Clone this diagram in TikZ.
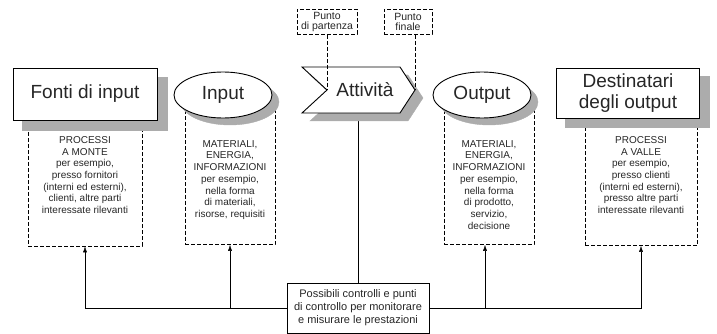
\documentclass[tikz,border=0pt]{standalone}
\usepackage{fontspec}
\setmainfont{Liberation Sans}
\usetikzlibrary{arrows.meta, shapes.geometric, backgrounds}
\definecolor{shadowgray}{RGB}{172, 172, 172}
\definecolor{ink}{RGB}{38, 38, 38}

\begin{document}
\begin{tikzpicture}[x=1pt, y=-1pt, line width=0.8pt,
  detbox/.style={draw, dash pattern=on 4pt off 2pt, line width=0.7pt, inner sep=0pt},
  dettext/.style={anchor=north, align=center, text=ink, inner sep=0pt,
                  font=\fontsize{10}{11.7}\selectfont},
  title/.style={draw, fill=white, text=ink, align=center, line width=0.9pt,
                font=\fontsize{19}{21}\selectfont},
  shadowfill/.style={fill=shadowgray, draw=shadowgray, line width=0.4pt},
  arr/.style={-{Latex[length=6pt, width=4pt]}}]
  \useasboundingbox (0, 0) rectangle (717, 334);

  % forme principali
  \node[title, minimum width=144, minimum height=52] (fonti) at (85, 94) {Fonti di input};
  \node[title, ellipse, minimum width=98, minimum height=46, inner sep=0pt] (input) at (223, 95) {Input};
  \node[title, ellipse, minimum width=98, minimum height=46, inner sep=0pt] (output) at (482, 95) {Output};
  \node[title, minimum width=143, minimum height=50] (dest) at (628, 93) {Destinatari\\degli output};

  \draw[fill=white, line width=0.9pt] (302, 67) -- (400, 67) -- (415, 90) coordinate (tip)
    -- (400, 113) -- (302, 113) -- (327, 90) coordinate (notch) -- cycle;
  \node[text=ink, font=\fontsize{19}{21}\selectfont] (att) at (365, 90) {Attività};

  % punti di partenza e fine
  \node[detbox, minimum width=60, minimum height=25, align=center, text=ink,
        font=\fontsize{10.5}{10}\selectfont] (partenza) at (327, 22) {Punto\\di partenza};
  \node[detbox, minimum width=48, minimum height=25, align=center, text=ink,
        font=\fontsize{10.5}{10}\selectfont] (finale) at (408, 22) {Punto\\finale};
  \draw[dash pattern=on 4pt off 2pt, line width=0.7pt] (partenza.south) -- (notch);
  \draw[dash pattern=on 4pt off 2pt, line width=0.7pt] (tip |- finale.south) -- (tip);

  % controlli
  \node[draw, fill=white, minimum width=142, minimum height=50, align=center, text=ink,
        font=\fontsize{11}{13}\selectfont] (ctrl) at (358, 308)
    {Possibili controlli e punti\\di controllo per monitorare\\e misurare le prestazioni};

  \node[dettext] (fontiTxt) at (85, 136)
    {PROCESSI\\A MONTE\\per esempio,\\presso fornitori\\(interni ed esterni),\\clienti, altre parti\\interessate rilevanti};
  \node[dettext] (inTxt) at (230, 140)
    {MATERIALI,\\ENERGIA,\\INFORMAZIONI\\per esempio,\\nella forma\\di materiali,\\risorse, requisiti};
  \node[dettext] (outTxt) at (489, 140)
    {MATERIALI,\\ENERGIA,\\INFORMAZIONI\\per esempio,\\nella forma\\di prodotto,\\servizio,\\decisione};
  \node[dettext] (destTxt) at (641, 136)
    {PROCESSI\\A VALLE\\per esempio,\\presso clienti\\(interni ed esterni),\\presso altre parti\\interessate rilevanti};

  \begin{scope}[on background layer]
    % riquadri tratteggiati sotto le forme
    \node[detbox, minimum width=114, minimum height=126] (fontiBox) at (85, 183) {};
    \node[detbox, minimum width=90, minimum height=145] (inBox) at (230, 172) {};
    \node[detbox, minimum width=90, minimum height=145] (outBox) at (489, 172) {};
    \node[detbox, minimum width=112, minimum height=127] (destBox) at (641, 182) {};

    \coordinate (attBot) at (358, 113);
    \draw (ctrl.north) -- (attBot);
    \draw[arr] (ctrl.west) -| (fontiBox.south);
    \draw[arr] (ctrl.west -| inBox.south) -- (inBox.south);
    \draw[arr] (ctrl.east) -| (destBox.south);
    \draw[arr] ([xshift=-4pt]ctrl.east -| outBox.south) -- ([xshift=-4pt]outBox.south);

    % ombre
    \path[shadowfill] ([shift={(10, 10)}]fonti.north west) rectangle ([shift={(10, 10)}]fonti.south east);
    \path[shadowfill] (230, 102) ellipse [x radius=49, y radius=23];
    \path[shadowfill] (489, 102) ellipse [x radius=49, y radius=23];
    \path[shadowfill] ([shift={(9, 9)}]dest.north west) rectangle ([shift={(9, 9)}]dest.south east);
    \path[shadowfill] (310, 75) -- (408, 75) -- (423, 98) -- (408, 121) -- (310, 121) -- (335, 98) -- cycle;
  \end{scope}

\end{tikzpicture}
\end{document}
